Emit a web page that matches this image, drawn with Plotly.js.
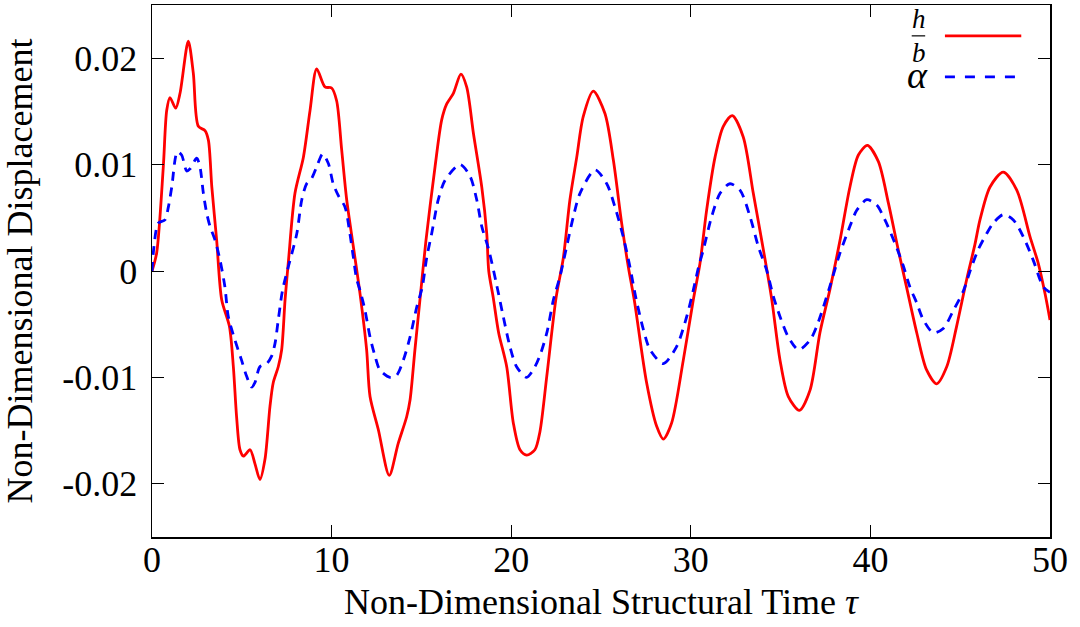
<!DOCTYPE html>
<html>
<head>
<meta charset="utf-8">
<script src="https://cdn.plot.ly/plotly-3.0.1.min.js"></script>
<style>html,body{margin:0;padding:0;background:#fff;}#chart{width:1080px;height:627px;}</style>
</head>
<body>
<div id="chart"></div>
<script>
// h/b series
const tauH = [0,0.26,0.63,0.82,1.0,1.32,1.56,2.02,2.3,2.58,2.95,3.14,3.33,3.6,3.88,4.31,4.53,4.71,4.9,5.09,5.46,5.73,6.01,6.29,6.57,6.75,7.03,7.22,7.41,7.6,7.96,8.43,8.8,9.17,9.63,10.0,10.28,10.56,10.84,11.21,11.58,11.95,12.14,12.6,13.21,13.71,14.18,14.37,14.64,14.92,15.25,15.76,16.13,16.41,16.78,17.2,17.52,17.9,18.36,18.64,18.75,19.0,19.3,19.75,20.12,20.49,20.86,21.32,21.6,21.98,22.5,22.9,23.27,23.65,24.01,24.57,25.22,25.69,26.15,26.52,26.85,27.54,28.1,28.47,28.93,29.58,30.14,30.51,30.88,31.35,31.81,32.31,32.92,33.48,34.04,34.5,34.97,35.43,36.05,36.64,37.19,37.75,38.31,38.86,39.33,39.83,40.44,41.0,41.55,42.05,42.58,43.13,43.69,44.25,44.8,45.36,45.82,46.1,46.66,47.4,48.15,48.89,49.35,49.72,50];
const hb = [0,0.0017,0.0098,0.0151,0.0163,0.0153,0.0167,0.0216,0.0186,0.0136,0.0132,0.0123,0.0079,0.0029,-0.0027,-0.0052,-0.009,-0.0137,-0.0168,-0.0174,-0.0168,-0.0181,-0.0196,-0.0177,-0.0127,-0.0105,-0.009,-0.0074,-0.0027,0.001,0.0073,0.0107,0.0151,0.019,0.0173,0.0172,0.016,0.0114,0.0067,0.0023,-0.0021,-0.0074,-0.0118,-0.0149,-0.0192,-0.0162,-0.0137,-0.0121,-0.0074,-0.0027,0.0028,0.0098,0.0142,0.0157,0.0167,0.0185,0.0173,0.0129,0.0079,0.0035,0.0,-0.0025,-0.0058,-0.009,-0.0143,-0.0168,-0.0173,-0.0168,-0.0151,-0.0099,-0.0025,0.0012,0.0067,0.0107,0.0145,0.0169,0.0148,0.0104,0.0045,0.0004,-0.0027,-0.0105,-0.0146,-0.0158,-0.0143,-0.0084,-0.0027,0.0007,0.0057,0.0107,0.0136,0.0146,0.0126,0.0073,0.002,-0.0026,-0.0084,-0.0118,-0.0131,-0.0112,-0.0058,-0.0017,0.0029,0.0079,0.0109,0.0118,0.0103,0.0064,0.002,-0.0018,-0.0058,-0.0093,-0.0106,-0.009,-0.0052,-0.0008,0.0025,0.0048,0.0079,0.0093,0.0076,0.0032,0.0007,-0.0021,-0.0046];
// alpha series
const tauA = [0,0.11,0.35,0.72,0.91,1.1,1.41,1.65,1.93,2.12,2.49,2.67,2.86,3.05,3.23,3.51,3.79,4.06,4.25,4.62,4.99,5.27,5.55,5.73,6.01,6.39,6.66,6.85,7.03,7.27,7.59,8.06,8.34,8.61,8.89,9.17,9.5,9.82,10.09,10.37,10.75,11.02,11.21,11.4,11.58,11.86,12.14,12.42,12.69,13.25,13.62,13.99,14.37,14.74,15.05,15.3,15.57,15.94,16.31,17.15,17.71,18.08,18.36,18.75,19.19,19.56,19.93,20.3,20.86,21.32,21.65,22.0,22.35,22.72,23.05,23.46,23.83,24.67,25.32,25.78,26.24,26.61,26.95,27.36,27.73,28.47,29.21,29.77,30.14,30.45,30.7,31.16,31.63,32.18,32.74,33.3,33.76,34.22,34.6,34.97,35.43,36.0,36.64,37.01,37.38,37.75,38.31,38.77,39.24,39.8,40.35,40.81,41.37,41.83,42.2,42.58,42.95,43.5,44.06,44.62,45.17,45.55,46.0,46.47,46.84,47.4,47.96,48.52,49.07,49.63,50];
const alpha = [0,0.0023,0.0045,0.0048,0.006,0.0079,0.0112,0.0109,0.0094,0.0096,0.0106,0.0098,0.0073,0.0054,0.0042,0.0029,0.001,-0.0015,-0.0043,-0.0065,-0.0084,-0.0099,-0.0109,-0.0105,-0.009,-0.0087,-0.008,-0.0068,-0.0046,-0.0018,0.0004,0.0035,0.0067,0.0082,0.0087,0.0098,0.011,0.0101,0.0082,0.0071,0.006,0.0035,0.0013,-0.0008,-0.0018,-0.0037,-0.0062,-0.008,-0.0093,-0.01,-0.0098,-0.0084,-0.0062,-0.0034,-0.0015,0.0013,0.0035,0.0067,0.0085,0.01,0.0089,0.0067,0.0042,0.002,-0.0013,-0.0043,-0.0071,-0.009,-0.01,-0.009,-0.0077,-0.0057,-0.0027,-0.0005,0.002,0.0051,0.0073,0.0095,0.0082,0.006,0.0032,0.0004,-0.0026,-0.0055,-0.0074,-0.0087,-0.0071,-0.0043,-0.0018,0.0005,0.002,0.0051,0.0073,0.0082,0.0076,0.0051,0.0023,0.0001,-0.0024,-0.0043,-0.0062,-0.0074,-0.0065,-0.0052,-0.0034,-0.0014,0.0017,0.0038,0.0057,0.0067,0.0062,0.0048,0.0026,0.0005,-0.0015,-0.003,-0.0046,-0.0058,-0.0054,-0.0037,-0.0019,0.0,0.002,0.0035,0.0045,0.0053,0.0048,0.0032,0.001,-0.0015,-0.002];
// axis ticks
const xTickVals = [0,10,20,30,40,50];
const xTickText = ["0","10","20","30","40","50"];
const yTickVals = [0.02,0.01,0,-0.01,-0.02];
const yTickText = ["0.02","0.01","0","-0.01","-0.02"];

const FAM = "Liberation Serif";
const traces = [
  {x: tauH, y: hb, type: "scatter", mode: "lines", name: "h/b",
   line: {color: "#ff0000", width: 2.8, shape: "spline", smoothing: 0.8}},
  {x: tauA, y: alpha, type: "scatter", mode: "lines", name: "alpha",
   line: {color: "#0000ff", width: 2.8, dash: "9px,7px", shape: "spline", smoothing: 0.8}}
];
function axisBase() {
  return {
    showgrid: false, zeroline: false, showline: true, mirror: "ticks",
    linecolor: "#000", linewidth: 1.5, ticks: "inside", ticklen: 12,
    tickwidth: 1, tickcolor: "#000",
    tickfont: {family: FAM, size: 36, color: "#000"}
  };
}
const xa = axisBase();
xa.range = [0, 50]; xa.tickmode = "array"; xa.tickvals = xTickVals; xa.ticktext = xTickText;
xa.ticklabelstandoff = -10;
xa.title = {text: "Non-Dimensional Structural Time <i>τ</i>", font: {family: FAM, size: 36, color: "#000"}, standoff: 10};
const ya = axisBase();
ya.range = [-0.025, 0.025]; ya.tickmode = "array"; ya.tickvals = yTickVals; ya.ticktext = yTickText;
ya.ticklabelstandoff = 6;
ya.title = {text: "Non-Dimensional Displacement", font: {family: FAM, size: 36, color: "#000"}, standoff: 18};

const layout = {
  width: 1080, height: 627,
  font: {family: FAM, size: 36, color: "#000"},
  margin: {l: 152, r: 30, t: 5, b: 90},
  paper_bgcolor: "#fff", plot_bgcolor: "#fff",
  showlegend: false,
  xaxis: xa, yaxis: ya,
  shapes: [
    {type: "line", xref: "paper", yref: "paper", x0: 0.883, x1: 0.968, y0: 0.942, y1: 0.942, line: {color: "#ff0000", width: 2.8}},
    {type: "line", xref: "paper", yref: "paper", x0: 0.883, x1: 0.961, y0: 0.865, y1: 0.865, line: {color: "#0000ff", width: 2.8, dash: "10px,10px"}},
    {type: "line", xref: "paper", yref: "paper", x0: 0.846, x1: 0.861, y0: 0.942, y1: 0.942, line: {color: "#000", width: 1.2}}
  ],
  annotations: [
    {xref: "paper", yref: "paper", x: 0.854, y: 0.944, yanchor: "bottom", xanchor: "center", showarrow: false,
     borderpad: 0, text: "<i>h</i>", font: {family: FAM, size: 27, color: "#000"}},
    {xref: "paper", yref: "paper", x: 0.854, y: 0.940, yanchor: "top", xanchor: "center", showarrow: false,
     borderpad: 0, text: "<i>b</i>", font: {family: FAM, size: 27, color: "#000"}},
    {xref: "paper", yref: "paper", x: 0.852, y: 0.868, yanchor: "middle", xanchor: "center", showarrow: false,
     text: "<i>α</i>", font: {family: FAM, size: 38, color: "#000"}}
  ]
};
Plotly.newPlot("chart", traces, layout, {staticPlot: true, displayModeBar: false});
</script>
</body>
</html>
